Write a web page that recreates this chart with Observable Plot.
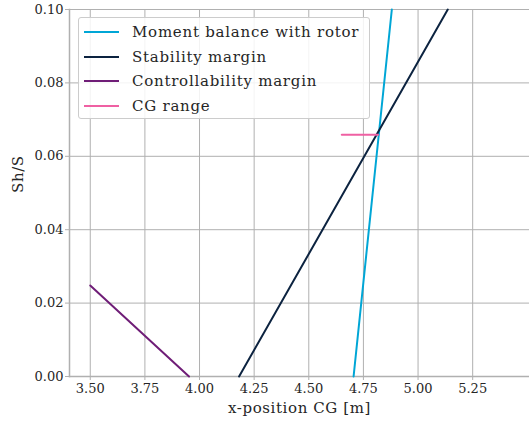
<!DOCTYPE html>
<html><head><meta charset="utf-8">
<script src="https://cdn.jsdelivr.net/npm/d3@7"></script>
<script src="https://cdn.jsdelivr.net/npm/@observablehq/plot@0.6"></script>
<style>
body{margin:0;background:#fff}
#wrap{position:relative;width:529px;height:421px;font-family:"DejaVu Serif","Liberation Serif","Noto Serif",serif}
#wrap svg, #wrap svg text{font-family:"DejaVu Serif","Liberation Serif","Noto Serif",serif !important}
#legend{position:absolute;left:78px;top:17px;width:292px;height:102px;border:1px solid #cccccc;border-radius:3px;background:rgba(255,255,255,0.85);box-sizing:border-box;padding-top:2px}
.row{display:flex;align-items:center;height:24.5px;font-size:15px;color:#262626;letter-spacing:0.75px;white-space:nowrap}
.sw{width:35px;height:0;border-top:2px solid;margin-left:5px;margin-right:13px}
</style>
</head><body>
<div id="wrap"><div id="chart"></div><div id="legend"></div></div>
<script>
const seriesNames = ["Moment balance with rotor", "Stability margin", "Controllability margin", "CG range"];
const seriesColors = ["#00A6D6", "#0C2340", "#6F1D77", "#EF60A3"];
const momentX = [4.705, 4.880];
const momentY = [0.0, 0.100];
const stabilityX = [4.181, 5.136];
const stabilityY = [0.0, 0.100];
const controlX = [3.500, 3.952];
const controlY = [0.0248, 0.0];
const cgX = [4.651, 4.817];
const cgY = [0.0659, 0.0659];
const xTicks = [3.50, 3.75, 4.00, 4.25, 4.50, 4.75, 5.00, 5.25];
const yTicks = [0.00, 0.02, 0.04, 0.06, 0.08, 0.10];

const rows = [];
[[momentX, momentY], [stabilityX, stabilityY], [controlX, controlY], [cgX, cgY]].forEach(([xs, ys], i) => {
  xs.forEach((x, j) => rows.push({series: seriesNames[i], x, y: ys[j]}));
});

const gridColor = "#b0b0b0";
const chart = Plot.plot({
  width: 529, height: 421,
  marginLeft: 69, marginTop: 9, marginBottom: 45, marginRight: 0,
  style: {fontSize: "13px", color: "#262626", background: "#fff"},
  x: {domain: [3.405, 5.51]},
  y: {domain: [0, 0.1]},
  color: {domain: seriesNames, range: seriesColors},
  marks: [
    Plot.gridX(xTicks, {stroke: gridColor, strokeOpacity: 1, strokeWidth: 1}),
    Plot.gridY(yTicks, {stroke: gridColor, strokeOpacity: 1, strokeWidth: 1}),
    Plot.axisX(xTicks, {tickFormat: d3.format(".2f"), tickSize: 4, tickPadding: 3, stroke: gridColor, label: null}),
    Plot.axisY(yTicks, {tickFormat: d3.format(".2f"), tickSize: 4, tickPadding: 2, stroke: gridColor, label: null}),
    Plot.frame({anchor: "left", stroke: gridColor, strokeWidth: 1.5}),
    Plot.frame({anchor: "bottom", stroke: gridColor, strokeWidth: 1.5}),
    Plot.line(rows, {x: "x", y: "y", z: "series", stroke: "series", strokeWidth: 2}),
    Plot.text(["x-position CG [m]"], {frameAnchor: "bottom", dy: 36, fontSize: 15, fill: "#262626"}),
    Plot.text(["Sh/S"], {frameAnchor: "left", dx: -51, rotate: -90, fontSize: 15, fill: "#262626"})
  ]
});
d3.select(chart).selectAll("g[aria-label='text'] text").attr("letter-spacing", "0.6px");
document.getElementById("chart").appendChild(chart);

const legend = document.getElementById("legend");
seriesNames.forEach((name, i) => {
  const r = document.createElement("div");
  r.className = "row";
  const sw = document.createElement("span");
  sw.className = "sw";
  sw.style.borderTopColor = seriesColors[i];
  const t = document.createElement("span");
  t.textContent = name;
  r.appendChild(sw); r.appendChild(t);
  legend.appendChild(r);
});
</script>
</body></html>
